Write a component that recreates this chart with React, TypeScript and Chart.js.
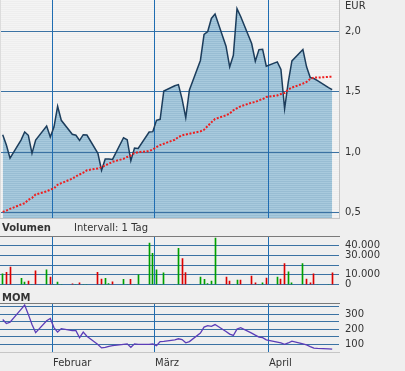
import React, { useEffect, useRef } from 'react';
import { Chart, registerables } from 'chart.js';

Chart.register(...registerables);

// ---------------- data ----------------
// trading days, counted in calendar days from 1 February
const tradingDays = [
  -14, -13, -12, -9, -8, -7, -6, -5, -2, -1, 0, 1, 2, 5, 6, 7, 8, 9, 12, 13, 14, 15, 16,
  19, 20, 21, 22, 23, 26, 27, 28, 29, 30, 33, 34, 35, 36, 37, 40, 41, 42, 43, 44, 47, 48,
  49, 50, 51, 54, 55, 56, 57, 58, 61, 62, 63, 64, 65, 68, 69, 70, 71, 72, 75, 76,
];

const closePrices = [
  1.145, 1.06, 0.95, 1.1, 1.167, 1.14, 0.99, 1.1, 1.217, 1.125, 1.208, 1.38, 1.264, 1.148,
  1.14, 1.098, 1.145, 1.142, 0.99, 0.85, 0.943, 0.943, 0.94, 1.12, 1.103, 0.93, 1.034, 1.031,
  1.167, 1.17, 1.264, 1.272, 1.507, 1.55, 1.56, 1.44, 1.286, 1.516, 1.76, 1.975, 2.0, 2.108,
  2.144, 1.878, 1.707, 1.803, 2.19, 2.124, 1.9, 1.754, 1.85, 1.853, 1.712, 1.748, 1.685,
  1.36, 1.58, 1.756, 1.85, 1.707, 1.618, 1.61, 1.593, 1.535, 1.518,
];

const movingAverage = [
  0.505, 0.516, 0.53, 0.566, 0.577, 0.605, 0.62, 0.65, 0.675, 0.69, 0.7, 0.73, 0.743, 0.78,
  0.8, 0.815, 0.83, 0.85, 0.865, 0.876, 0.89, 0.904, 0.92, 0.945, 0.96, 0.973, 0.993, 1.0,
  1.009, 1.023, 1.042, 1.059, 1.07, 1.103, 1.125, 1.14, 1.147, 1.153, 1.172, 1.186, 1.217,
  1.247, 1.275, 1.305, 1.32, 1.347, 1.364, 1.38, 1.41, 1.416, 1.43, 1.44, 1.457, 1.47, 1.482,
  1.49, 1.518, 1.535, 1.568, 1.582, 1.607, 1.618, 1.618, 1.624, 1.624,
];

const volumes = [
  10850, 12600, 17860, 6300, 2450, 3500, 0, 14000, 15050, 7700, 0, 2450, 0, 700, 0, 1750, 0,
  0, 12600, 5600, 6300, 1050, 2800, 5250, 0, 5250, 0, 9800, 42370, 31860, 15050, 0, 11900, 0,
  37100, 26600, 12250, 0, 7700, 5250, 1050, 3500, 47600, 7700, 3500, 0, 4550, 4550, 8750,
  1750, 0, 1750, 6650, 7700, 5600, 21360, 12950, 1750, 21360, 5600, 1750, 10850, 0, 0, 11900,
];

// 'u' = green bar, 'd' = red bar
const volumeDirection = [
  'u', 'd', 'd', 'u', 'u', 'd', 'u', 'd', 'u', 'd', 'u', 'u', 'u', 'd', 'u', 'd', 'u', 'u',
  'd', 'd', 'u', 'u', 'd', 'u', 'u', 'd', 'u', 'u', 'u', 'u', 'u', 'u', 'u', 'u', 'u', 'd',
  'd', 'u', 'u', 'u', 'u', 'u', 'u', 'd', 'd', 'u', 'u', 'd', 'd', 'd', 'u', 'u', 'd', 'u',
  'd', 'd', 'u', 'u', 'u', 'd', 'd', 'd', 'u', 'u', 'd',
];

const momentum = [
  266, 239, 248, 334, 363, 300, 232, 178, 257, 273, 212, 182, 205, 191, 191, 144, 182, 154,
  98, 76, 80, 86, 91, 100, 103, 80, 103, 100, 100, 103, 91, 118, 120, 130, 137, 132, 110, 118,
  175, 215, 225, 220, 232, 186, 168, 159, 202, 211, 175, 161, 148, 145, 130, 114, 109, 100,
  109, 121, 103, 96, 85, 75, 73, 70, 68,
];

const monthLabels = ['Februar', 'März', 'April'];
const monthLinePos = [-0.4, 27.46, 58.6];

const priceTicks = [0.5, 1.0, 1.5, 2.0];
const volumeGridValues = [0, 10000, 20000, 30000, 40000];
const volumeTickValues = [0, 10000, 30000, 40000];
const momGridValues = [100, 150, 200, 250, 300, 350];
const momTickValues = [100, 200, 300];

// ---------------- layout / style ----------------
const X_MIN = -14.467;
const X_MAX = 77.86;
const FONT = '"DejaVu Sans", Verdana, sans-serif';
const TEXT = '#333333';
const H_GRID = '#3b72a3';
const V_GRID = '#1f6db2';
const BORDER_LIGHT = '#c6c6c6';
const BORDER_DARK = '#7a7a7a';

Chart.defaults.font.family = FONT;
Chart.defaults.font.size = 10;
Chart.defaults.color = TEXT;

const pts = (vals: number[]) => tradingDays.map((d, i) => ({ x: d, y: vals[i] }));

function hLine(ctx: CanvasRenderingContext2D, x0: number, x1: number, y: number, color: string) {
  const yy = Math.floor(y) + 0.5;
  ctx.strokeStyle = color;
  ctx.lineWidth = 1;
  ctx.beginPath();
  ctx.moveTo(x0, yy);
  ctx.lineTo(x1, yy);
  ctx.stroke();
}
function vLine(ctx: CanvasRenderingContext2D, x: number, y0: number, y1: number, color: string) {
  const xx = Math.floor(x) + 0.5;
  ctx.strokeStyle = color;
  ctx.lineWidth = 1;
  ctx.beginPath();
  ctx.moveTo(xx, y0);
  ctx.lineTo(xx, y1);
  ctx.stroke();
}

function stripePattern(ctx: CanvasRenderingContext2D, c1: string, c2: string) {
  const p = document.createElement('canvas');
  p.width = 1;
  p.height = 2;
  const g = p.getContext('2d')!;
  g.fillStyle = c1;
  g.fillRect(0, 0, 1, 1);
  g.fillStyle = c2;
  g.fillRect(0, 1, 1, 1);
  return ctx.createPattern(p, 'repeat')!;
}

const rightAxis = (min: number, max: number, tickVals: number[], fmt: (v: number) => string) => ({
  type: 'linear' as const,
  position: 'right' as const,
  min,
  max,
  grid: { display: false, drawTicks: false },
  border: { display: false },
  ticks: {
    autoSkip: false,
    padding: 6,
    color: TEXT,
    font: { family: FONT, size: 10 },
    callback: (v: any) => fmt(Number(v)),
  },
  afterBuildTicks: (s: any) => {
    s.ticks = tickVals.map((v) => ({ value: v }));
  },
  afterFit: (s: any) => {
    s.width = 66;
    s.paddingTop = 0;
    s.paddingBottom = 0;
  },
});

const xAxis = {
  type: 'linear' as const,
  display: false,
  offset: false,
  grid: { offset: false },
  min: X_MIN,
  max: X_MAX,
};

const baseOptions = {
  responsive: false,
  animation: false as const,
  devicePixelRatio: 1,
  events: [] as any[],
  plugins: { legend: { display: false }, tooltip: { enabled: false } },
};

const thousands = (v: number) => String(Math.round(v)).replace(/\B(?=(\d{3})+(?!\d))/g, '.');

export default function App() {
  const priceRef = useRef<HTMLCanvasElement>(null);
  const volRef = useRef<HTMLCanvasElement>(null);
  const momRef = useRef<HTMLCanvasElement>(null);

  useEffect(() => {
    const pctx = priceRef.current!.getContext('2d')!;
    const bgPattern = stripePattern(pctx, '#f4f4f4', '#eeeeee');
    const fillPattern = stripePattern(pctx, '#a8cadd', '#98bdd3');

    const priceChart = new Chart(priceRef.current!, {
      type: 'line',
      data: {
        datasets: [
          {
            data: pts(closePrices),
            fill: 'start',
            backgroundColor: fillPattern,
            borderWidth: 0,
            borderColor: 'rgba(0,0,0,0)',
            pointRadius: 0,
            tension: 0,
            order: 3,
          },
          {
            data: pts(closePrices),
            fill: false,
            borderColor: '#1c3d5c',
            borderWidth: 1.5,
            pointRadius: 0,
            tension: 0,
            order: 2,
          },
          {
            data: pts(movingAverage),
            fill: false,
            borderColor: '#ee1f1f',
            borderWidth: 2,
            borderDash: [2, 1.6],
            pointRadius: 0,
            tension: 0,
            order: 1,
          },
        ],
      },
      options: {
        ...baseOptions,
        layout: { padding: { left: 1, top: 0, right: 0, bottom: 2 } },
        scales: {
          x: xAxis,
          y: rightAxis(0.4545, 2.261, priceTicks, (v) => v.toFixed(1).replace('.', ',')),
        },
      },
      plugins: [
        {
          id: 'priceDecor',
          beforeDatasetsDraw(chart: any) {
            const { ctx, chartArea: a } = chart;
            ctx.save();
            ctx.fillStyle = bgPattern;
            ctx.fillRect(a.left, a.top, a.right - a.left, a.bottom - a.top);
            ctx.restore();
          },
          afterDatasetDraw(chart: any, args: any) {
            if (args.index !== 0) return;
            const { ctx, chartArea: a, scales } = chart;
            ctx.save();
            priceTicks.forEach((v) => hLine(ctx, 0, a.right, scales.y.getPixelForValue(v), H_GRID));
            monthLinePos.forEach((p) => vLine(ctx, scales.x.getPixelForValue(p), a.top, a.bottom, V_GRID));
            ctx.restore();
          },
          afterDraw(chart: any) {
            const { ctx, chartArea: a } = chart;
            ctx.save();
            vLine(ctx, a.right, 0, a.bottom + 1, BORDER_LIGHT);
            vLine(ctx, 0, 0, a.bottom + 1, '#dcdcdc');
            hLine(ctx, 0, a.right + 1, a.bottom, BORDER_LIGHT);
            ctx.fillStyle = TEXT;
            ctx.font = `10px ${FONT}`;
            ctx.textBaseline = 'alphabetic';
            ctx.textAlign = 'left';
            ctx.fillText('EUR', 345, 9);
            ctx.restore();
          },
        },
      ],
    } as any);

    const volChart = new Chart(volRef.current!, {
      type: 'bar',
      data: {
        datasets: [
          {
            data: pts(volumes),
            backgroundColor: volumeDirection.map((d) => (d === 'u' ? '#00a000' : '#dd0000')),
            borderWidth: 0,
            barThickness: 1,
          },
        ],
      },
      options: {
        ...baseOptions,
        layout: { padding: { left: 1, top: 16.5, right: 0, bottom: 5.5 } },
        scales: {
          x: xAxis,
          y: rightAxis(0, 49231, volumeTickValues, thousands),
        },
      },
      plugins: [
        {
          id: 'volDecor',
          beforeDatasetsDraw(chart: any) {
            const { ctx, chartArea: a, scales } = chart;
            ctx.save();
            volumeGridValues.forEach((v) => hLine(ctx, 0, a.right, scales.y.getPixelForValue(v), H_GRID));
            monthLinePos.forEach((p) => vLine(ctx, scales.x.getPixelForValue(p), a.top, a.bottom, V_GRID));
            hLine(ctx, 0, a.right + 1, a.top, BORDER_DARK);
            ctx.fillStyle = TEXT;
            ctx.textBaseline = 'alphabetic';
            ctx.textAlign = 'left';
            ctx.font = `bold 10px ${FONT}`;
            ctx.fillText('Volumen', 2, 11);
            ctx.font = `10px ${FONT}`;
            ctx.fillText('Intervall: 1 Tag', 74, 11);
            ctx.restore();
            const meta = chart.getDatasetMeta(0);
            meta.data.forEach((el: any) => {
              el.x = Math.floor(el.x) + 0.5;
            });
          },
        },
      ],
    } as any);

    const momChart = new Chart(momRef.current!, {
      type: 'line',
      data: {
        datasets: [
          {
            data: pts(momentum),
            fill: false,
            borderColor: '#5b3db8',
            borderWidth: 1.3,
            pointRadius: 0,
            tension: 0,
          },
        ],
      },
      options: {
        ...baseOptions,
        layout: { padding: { left: 1, top: 13.5, right: 0, bottom: 18.5 } },
        scales: {
          x: xAxis,
          y: rightAxis(45.2, 372.9, momTickValues, (v) => String(v)),
        },
      },
      plugins: [
        {
          id: 'momDecor',
          beforeDatasetsDraw(chart: any) {
            const { ctx, chartArea: a, scales } = chart;
            ctx.save();
            momGridValues.forEach((v) => hLine(ctx, 0, a.right, scales.y.getPixelForValue(v), H_GRID));
            monthLinePos.forEach((p) => vLine(ctx, scales.x.getPixelForValue(p), a.top, a.bottom, V_GRID));
            hLine(ctx, 0, a.right + 1, a.top, BORDER_DARK);
            hLine(ctx, 0, a.right + 1, a.bottom, BORDER_LIGHT);
            ctx.fillStyle = TEXT;
            ctx.textBaseline = 'alphabetic';
            ctx.textAlign = 'left';
            ctx.font = `bold 10px ${FONT}`;
            ctx.fillText('MOM', 2, 11);
            ctx.font = `10px ${FONT}`;
            monthLinePos.forEach((p, i) => {
              const x = Math.floor(scales.x.getPixelForValue(p)) + 1;
              ctx.fillText(monthLabels[i], x, 76);
            });
            ctx.restore();
          },
        },
      ],
    } as any);

    return () => {
      priceChart.destroy();
      volChart.destroy();
      momChart.destroy();
    };
  }, []);

  const wrap: React.CSSProperties = {
    position: 'absolute',
    left: 0,
    top: 0,
    width: 405,
    height: 371,
    background: '#efefef',
    overflow: 'hidden',
  };
  const abs = (top: number): React.CSSProperties => ({ position: 'absolute', left: 0, top, display: 'block' });

  return (
    <div style={wrap}>
      <canvas ref={priceRef} width={405} height={220} style={abs(0)} />
      <canvas ref={volRef} width={405} height={70} style={abs(220)} />
      <canvas ref={momRef} width={405} height={81} style={abs(290)} />
    </div>
  );
}
